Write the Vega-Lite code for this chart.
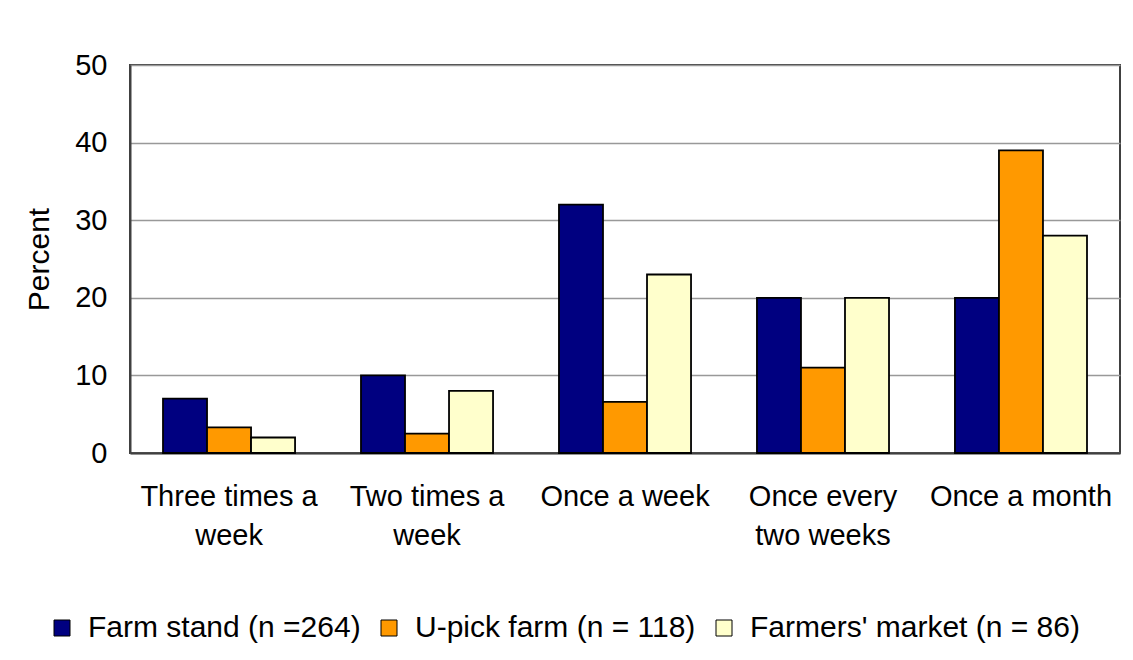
{
  "$schema": "https://vega.github.io/schema/vega-lite/v6.json",
  "width": 990,
  "height": 388,
  "autosize": {"type": "none"},
  "padding": {"left": 130, "top": 65, "right": 13, "bottom": 207},
  "background": "white",
  "config": {
    "font": "Liberation Sans",
    "view": {"stroke": "#404040", "strokeWidth": 2},
    "axis": {"labelColor": "black", "titleColor": "black", "labelFont": "Liberation Sans", "titleFont": "Liberation Sans"}
  },
  "data": {
    "values": [
      {"freq": "Three times a\nweek", "source": "Farm stand (n =264)", "percent": 7},
      {"freq": "Three times a\nweek", "source": "U-pick farm (n = 118)", "percent": 3.3},
      {"freq": "Three times a\nweek", "source": "Farmers' market (n = 86)", "percent": 2},
      {"freq": "Two times a\nweek", "source": "Farm stand (n =264)", "percent": 10},
      {"freq": "Two times a\nweek", "source": "U-pick farm (n = 118)", "percent": 2.5},
      {"freq": "Two times a\nweek", "source": "Farmers' market (n = 86)", "percent": 8},
      {"freq": "Once a week", "source": "Farm stand (n =264)", "percent": 32},
      {"freq": "Once a week", "source": "U-pick farm (n = 118)", "percent": 6.6},
      {"freq": "Once a week", "source": "Farmers' market (n = 86)", "percent": 23},
      {"freq": "Once every\ntwo weeks", "source": "Farm stand (n =264)", "percent": 20},
      {"freq": "Once every\ntwo weeks", "source": "U-pick farm (n = 118)", "percent": 11},
      {"freq": "Once every\ntwo weeks", "source": "Farmers' market (n = 86)", "percent": 20},
      {"freq": "Once a month", "source": "Farm stand (n =264)", "percent": 20},
      {"freq": "Once a month", "source": "U-pick farm (n = 118)", "percent": 39},
      {"freq": "Once a month", "source": "Farmers' market (n = 86)", "percent": 28}
    ]
  },
  "mark": {"type": "bar", "stroke": "black", "strokeWidth": 1.8},
  "encoding": {
    "x": {
      "field": "freq",
      "type": "nominal",
      "sort": ["Three times a\nweek", "Two times a\nweek", "Once a week", "Once every\ntwo weeks", "Once a month"],
      "scale": {"paddingInner": 0.333, "paddingOuter": 0.1667},
      "axis": {
        "title": null,
        "labelAngle": 0,
        "labelFontSize": 29,
        "labelPadding": 29,
        "labelLineHeight": 39,
        "labelExpr": "split(datum.label, '\\n')",
        "ticks": false,
        "domainColor": "#404040",
        "domainWidth": 2,
        "labelLimit": 400
      }
    },
    "xOffset": {
      "field": "source",
      "type": "nominal",
      "scale": {"domain": ["Farm stand (n =264)", "U-pick farm (n = 118)", "Farmers' market (n = 86)"], "paddingInner": 0, "paddingOuter": 0}
    },
    "y": {
      "field": "percent",
      "type": "quantitative",
      "scale": {"domain": [0, 50], "nice": false},
      "axis": {
        "title": "Percent",
        "titleFontSize": 30,
        "titleFontWeight": "normal",
        "titlePadding": 20,
        "values": [0, 10, 20, 30, 40, 50],
        "labelFontSize": 29,
        "labelPadding": 23,
        "ticks": false,
        "gridColor": "#999999",
        "gridWidth": 1.5,
        "domainColor": "#404040",
        "domainWidth": 2
      }
    },
    "color": {
      "field": "source",
      "type": "nominal",
      "scale": {
        "domain": ["Farm stand (n =264)", "U-pick farm (n = 118)", "Farmers' market (n = 86)"],
        "range": ["#000080", "#FF9900", "#FFFFCC"]
      },
      "legend": {
        "title": null,
        "orient": "none",
        "direction": "horizontal",
        "legendX": -83,
        "legendY": 548,
        "padding": 0,
        "symbolType": "square",
        "symbolSize": 256,
        "symbolStrokeColor": "black",
        "symbolStrokeWidth": 1,
        "symbolOpacity": 1,
        "labelFontSize": 30,
        "labelColor": "black",
        "labelOffset": 11,
        "columnPadding": 13,
        "labelLimit": 500
      }
    }
  }
}
